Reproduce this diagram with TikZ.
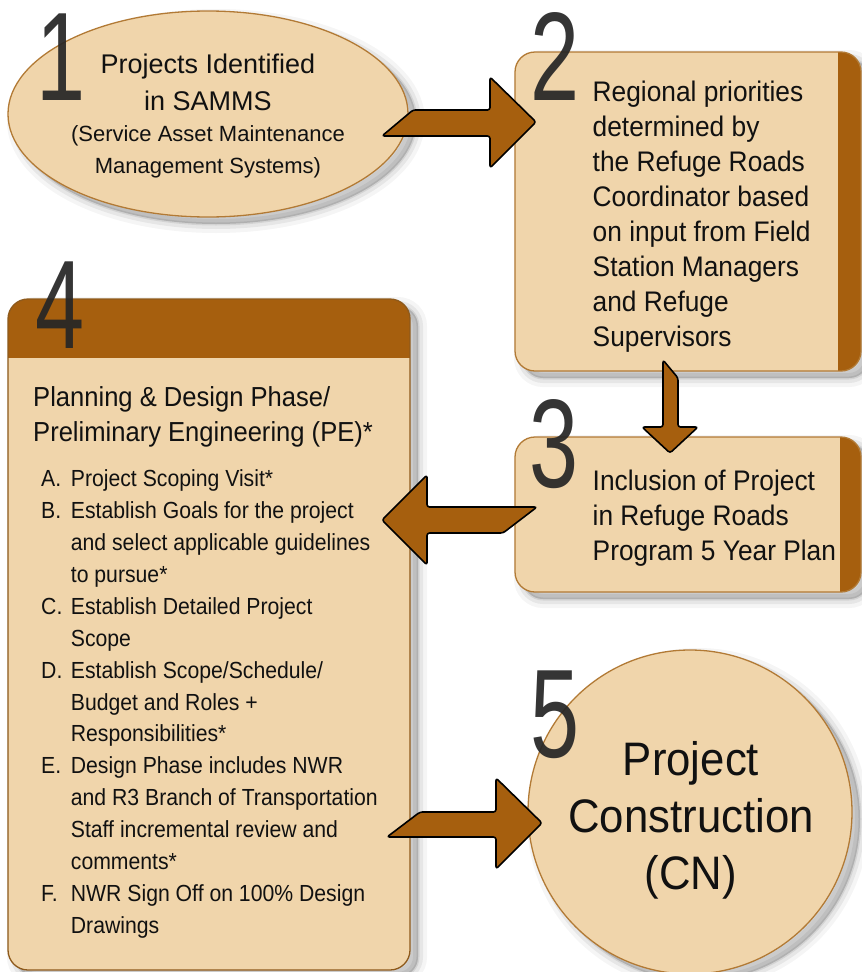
\documentclass[tikz,border=0pt]{standalone}
\usepackage{fontspec}
\setmainfont{Liberation Sans}[FakeStretch=0.93]
\newfontfamily\widefont{Liberation Sans}
\newfontfamily\listfont{Liberation Sans}[FakeStretch=0.91]
\newfontfamily\digitfont{Liberation Sans}[FakeStretch=0.70]
\usetikzlibrary{shapes.geometric}
\definecolor{tanfill}{HTML}{F0D5AB}
\definecolor{rim}{HTML}{B27A35}
\definecolor{darkrim}{HTML}{8E5A1C}
\definecolor{brn}{HTML}{A65F0E}
\definecolor{digit}{HTML}{262626}
\definecolor{txt}{HTML}{111111}
\tikzset{
  softshadow/.style={
    preaction={fill=black, fill opacity=0.04, draw=black, draw opacity=0.04, line width=18pt, transform canvas={shift={(8pt,-7pt)}}},
    preaction={fill=black, fill opacity=0.06, draw=black, draw opacity=0.06, line width=10pt, transform canvas={shift={(8pt,-7pt)}}},
    preaction={fill=black, fill opacity=0.08, draw=black, draw opacity=0.08, line width=3pt, transform canvas={shift={(8pt,-7pt)}}}},
  shapebox/.style={fill=tanfill, draw=rim, line width=1.3pt, softshadow, inner sep=0pt, outer sep=0pt},
  roundbox/.style={shapebox, rectangle, rounded corners=20pt},
  blockarrow/.style={fill=brn, draw=black, line width=1.6pt, line join=round, rounded corners=2.5pt},
  numtxt/.style={font=\digitfont\fontsize{126}{126}\selectfont, text=digit, text opacity=0.93, anchor=base, inner sep=0pt},
  elltxt/.style={font=\widefont\fontsize{27}{32}\selectfont, text=txt, anchor=base, inner sep=0pt},
  ellsmall/.style={font=\widefont\fontsize{22}{26}\selectfont, text=txt, anchor=base, inner sep=0pt},
  boxtxt/.style={font=\fontsize{28.3}{34}\selectfont, text=txt, anchor=base west, inner sep=0pt},
  headtxt/.style={font=\fontsize{27.5}{33}\selectfont, text=txt, anchor=base west, inner sep=0pt},
  listtxt/.style={font=\listfont\fontsize{23.3}{28}\selectfont, text=txt, anchor=base west, inner sep=0pt},
  circtxt/.style={font=\fontsize{47}{52}\selectfont, text=txt, anchor=base, inner sep=0pt},
}
\begin{document}
\begin{tikzpicture}[x=1pt, y=-1pt]
\useasboundingbox (0,0) rectangle (862,972);
\fill[white] (0,0) rectangle (862,972);

% shapes
\node[shapebox, ellipse, minimum width=400pt, minimum height=206pt] (n1) at (208,114) {};
\node[roundbox, minimum width=346pt, minimum height=319pt,
  path picture={\fill[brn, sharp corners] ([xshift=-23pt]path picture bounding box.north east) rectangle (path picture bounding box.south east);}] (n2) at (688,211.5) {};
\node[roundbox, minimum width=346pt, minimum height=155pt,
  path picture={\fill[brn, sharp corners] ([xshift=-21pt]path picture bounding box.north east) rectangle (path picture bounding box.south east);}] (n3) at (688,514.5) {};
\node[roundbox, draw=darkrim, minimum width=402pt, minimum height=671pt,
  path picture={\fill[brn, sharp corners] (path picture bounding box.north west) rectangle ([yshift=-59pt]path picture bounding box.north east);}] (n4) at (209,634.5) {};
\node[shapebox, circle, minimum size=324pt] (n5) at (690,812) {};

% block arrows
\draw[blockarrow] (382,136) -- (413,110) -- (490,110) -- (490,77) -- (536,122) -- (490,168) -- (490,136) -- cycle;
\draw[blockarrow] (663,360) -- (678,378) -- (678,427) -- (698,427) -- (670,453) -- (642,427) -- (663,427) -- cycle;
\draw[blockarrow] (537,507) -- (427,507) -- (427,475) -- (382,520) -- (427,565) -- (427,533) -- (503,533) -- cycle;
\draw[blockarrow] (387,837) -- (420,812) -- (496,812) -- (496,778) -- (542,823) -- (496,869) -- (496,837) -- cycle;

% ellipse text
\node[elltxt] (e1) at (208,73.3) {Projects Identified};
\node[elltxt] (e2) at (208,110) {in SAMMS};
\node[ellsmall] (e3) at (208,141.7) {(Service Asset Maintenance};
\node[ellsmall] (e4) at (208,173.3) {Management Systems)};

% box 2 text
\node[boxtxt] (b1) at (592.5,101) {Regional priorities};
\node[boxtxt] (b2) at (592.5,136) {determined by};
\node[boxtxt] (b3) at (592.5,171) {the Refuge Roads};
\node[boxtxt] (b4) at (592.5,206) {Coordinator based};
\node[boxtxt] (b5) at (592.5,241) {on input from Field};
\node[boxtxt] (b6) at (592.5,276) {Station Managers};
\node[boxtxt] (b7) at (592.5,311) {and Refuge};
\node[boxtxt] (b8) at (592.5,346) {Supervisors};

% box 3 text
\node[boxtxt] (c1) at (592.5,490) {Inclusion of Project};
\node[boxtxt] (c2) at (592.5,525) {in Refuge Roads};
\node[boxtxt] (c3) at (592.5,560) {Program 5 Year Plan};

% box 4 text
\node[headtxt] (h1) at (33,406.7) {Planning \& Design Phase/};
\node[headtxt] (h2) at (33,441.7) {Preliminary Engineering (PE)*};
\node[listtxt] (la) at (41,486.7) {A.};
\node[listtxt] (ta1) at (70.7,486.7) {Project Scoping Visit*};
\node[listtxt] (lb) at (41,518.6) {B.};
\node[listtxt] (tb1) at (70.7,518.6) {Establish Goals for the project};
\node[listtxt] (tb2) at (70.7,550.5) {and select applicable guidelines};
\node[listtxt] (tb3) at (70.7,582.4) {to pursue*};
\node[listtxt] (lc) at (41,614.3) {C.};
\node[listtxt] (tc1) at (70.7,614.3) {Establish Detailed Project};
\node[listtxt] (tc2) at (70.7,646.2) {Scope};
\node[listtxt] (ld) at (41,678.1) {D.};
\node[listtxt] (td1) at (70.7,678.1) {Establish Scope/Schedule/};
\node[listtxt] (td2) at (70.7,710) {Budget and Roles +};
\node[listtxt] (td3) at (70.7,741.9) {Responsibilities*};
\node[listtxt] (le) at (41,773.8) {E.};
\node[listtxt] (te1) at (70.7,773.8) {Design Phase includes NWR};
\node[listtxt] (te2) at (70.7,805.7) {and R3 Branch of Transportation};
\node[listtxt] (te3) at (70.7,837.6) {Staff incremental review and};
\node[listtxt] (te4) at (70.7,869.5) {comments*};
\node[listtxt] (lf) at (41,901.4) {F.};
\node[listtxt] (tf1) at (70.7,901.4) {NWR Sign Off on 100\% Design};
\node[listtxt] (tf2) at (70.7,933.3) {Drawings};

% circle text
\node[circtxt] (p1) at (691,775) {Project};
\node[circtxt] (p2) at (691,832.7) {Construction};
\node[circtxt] (p3) at (691,889.3) {(CN)};

% step numbers
\node[numtxt] (d1) at (61,100) {1};
\node[numtxt] (d2) at (555,100) {2};
\node[numtxt] (d3) at (554,487) {3};
\node[numtxt] (d4) at (60,348) {4};
\node[numtxt] (d5) at (555,757) {5};
\end{tikzpicture}
\end{document}
